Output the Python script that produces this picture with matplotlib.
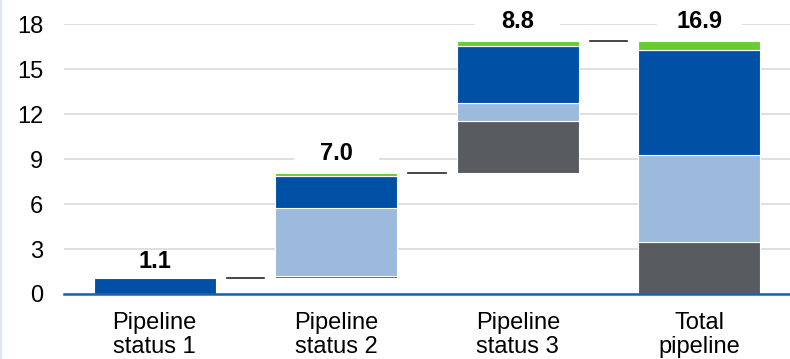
import numpy as np
import matplotlib
matplotlib.use("Agg")
import matplotlib.pyplot as plt
from matplotlib.lines import Line2D
from matplotlib.patches import Rectangle

plt.rcParams['font.family'] = ['Liberation Sans', 'DejaVu Sans']

categories = ["Pipeline\nstatus 1", "Pipeline\nstatus 2", "Pipeline\nstatus 3", "Total\npipeline"]
# contribution of each stage, per segment (bottom to top)
gray = [0.0, 0.07, 3.43]
light_blue = [0.0, 4.58, 1.22]
dark_blue = [1.1, 2.1, 3.8]
green = [0.0, 0.25, 0.35]
stage_labels = ["1.1", "7.0", "8.8"]
total_label = "16.9"
yticks = [0, 3, 6, 9, 12, 15, 18]

seg_colors = ['#585b60', '#9bbadc', '#0051a5', '#66cc33']
segments = [gray, light_blue, dark_blue, green]

fig = plt.figure(figsize=(7.90, 3.59), dpi=100)
ax = fig.add_axes([64 / 790, 65 / 359, 726 / 790, 270 / 359])
ax.set_xlim(-0.5, 3.5)
ax.set_ylim(0, 18)

width = 0.67
n_stage = len(dark_blue)
stage_tot = np.sum(segments, axis=0)
base = np.concatenate([[0], np.cumsum(stage_tot)[:-1]])

# waterfall stages
for i in range(n_stage):
    bottom = base[i]
    for vals, c in zip(segments, seg_colors):
        if vals[i] > 0:
            ax.bar(i, vals[i], width, bottom=bottom, color=c, edgecolor='white',
                   linewidth=0.8, zorder=3)
            bottom += vals[i]

# total bar
bottom = 0
for vals, c in zip(segments, seg_colors):
    v = sum(vals)
    ax.bar(n_stage, v, width, bottom=bottom, color=c, edgecolor='white',
           linewidth=0.8, zorder=3)
    bottom += v

# connectors between bars
tops = list(np.cumsum(stage_tot))
for i, t in enumerate(tops):
    ax.plot([i + 0.398, i + 0.602], [t, t], color='#262626', lw=1.2, zorder=3)

# value labels, each on a white strip that breaks the gridline
label_y = [tops[0] + 1.1, tops[1] + 1.3, 18.15]
label_y.append(18.15)
labels = stage_labels + [total_label]
for i, (lab, y) in enumerate(zip(labels, label_y)):
    ax.add_patch(Rectangle((i - 0.235, y - 0.55), 0.47, 1.1, facecolor='white',
                           edgecolor='none', zorder=2, clip_on=False))
    ax.text(i, y, lab, ha='center', va='center', fontsize=17, fontweight='bold',
            zorder=4, clip_on=False)

ax.set_yticks(yticks)
ax.set_xticks(range(len(categories)))
ax.set_xticklabels(categories, fontsize=17, linespacing=1.12)
ax.tick_params(axis='y', labelsize=17, length=0, pad=15)
ax.tick_params(axis='x', length=0, pad=13)
ax.grid(axis='y', color='#d9d9d9', lw=1.2, zorder=0)
ax.set_axisbelow(True)
for s in ['top', 'right', 'left']:
    ax.spines[s].set_visible(False)
ax.spines['bottom'].set_color('#1f5fb0')
ax.spines['bottom'].set_linewidth(1.8)
ax.spines['bottom'].set_zorder(5)

fig.add_artist(Line2D([0.0015, 0.0015], [0, 1], transform=fig.transFigure,
                      color='#dde7f3', lw=1.5))

fig.savefig('out.png', dpi=100)
